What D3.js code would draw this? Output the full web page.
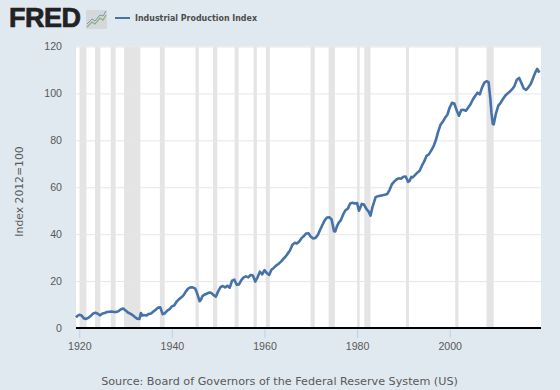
<!DOCTYPE html>
<html>
<head>
<meta charset="utf-8">
<script src="https://cdn.jsdelivr.net/npm/d3@7"></script>
<style>
  html, body { margin: 0; padding: 0; background: #e1e9f0; }
  svg { display: block; font-family: "DejaVu Sans", sans-serif; }
</style>
</head>
<body>
<svg></svg>
<script>
const width = 560;
const height = 390;

const years = [
  1919.3, 1919.6, 1920, 1920.5, 1921, 1921.5, 1922, 1922.5, 1923, 1923.5, 1924, 1924.5,
  1925, 1925.5, 1926, 1926.5, 1927, 1927.5, 1928, 1928.5, 1929, 1929.5, 1930, 1930.5,
  1931, 1931.5, 1932, 1932.5, 1933, 1933.3, 1933.6, 1934, 1934.5, 1935, 1935.5, 1936,
  1936.5, 1937, 1937.5, 1938, 1938.5, 1939, 1939.5, 1940, 1940.5, 1941, 1941.5, 1942,
  1942.5, 1943, 1943.5, 1944, 1944.5, 1945, 1945.3, 1945.7, 1946, 1946.3, 1946.6, 1947,
  1947.5, 1948, 1948.5, 1949, 1949.5, 1950, 1950.5, 1951, 1951.5, 1952, 1952.5, 1953,
  1953.5, 1954, 1954.5, 1955, 1955.5, 1956, 1956.5, 1957, 1957.5, 1958, 1958.5, 1959,
  1959.5, 1960, 1960.5, 1961, 1961.5, 1962, 1962.5, 1963, 1963.5, 1964, 1964.5, 1965,
  1965.5, 1966, 1966.5, 1967, 1967.5, 1968, 1968.5, 1969, 1969.5, 1970, 1970.5, 1971,
  1971.5, 1972, 1972.5, 1973, 1973.5, 1974, 1974.5, 1975, 1975.3, 1975.6, 1976, 1976.5,
  1977, 1977.5, 1978, 1978.5, 1979, 1979.5, 1980, 1980.4, 1980.7, 1981, 1981.5, 1982,
  1982.5, 1982.9, 1983.3, 1983.7, 1984, 1984.5, 1985, 1985.5, 1986, 1986.5, 1987, 1987.5,
  1988, 1988.5, 1989, 1989.5, 1990, 1990.5, 1991, 1991.3, 1991.7, 1992, 1992.5, 1993,
  1993.5, 1994, 1994.5, 1995, 1995.5, 1996, 1996.5, 1997, 1997.5, 1998, 1998.5, 1999,
  1999.5, 2000, 2000.5, 2001, 2001.5, 2002, 2002.5, 2003, 2003.5, 2004, 2004.5, 2005,
  2005.5, 2006, 2006.5, 2007, 2007.5, 2008, 2008.4, 2008.8, 2009, 2009.3, 2009.5, 2010,
  2010.5, 2011, 2011.5, 2012, 2012.5, 2013, 2013.5, 2014, 2014.5, 2015, 2015.5, 2016,
  2016.5, 2017, 2017.5, 2018, 2018.5, 2018.9, 2019.2, 2019.5
];
const values = [
  4.5, 5.2, 5.6, 5.3, 4.1, 3.9, 4.4, 5.2, 6.2, 6.5, 6.1, 5.4,
  6.2, 6.4, 6.8, 6.9, 7.0, 6.8, 6.8, 7.2, 8.0, 8.3, 7.5, 6.6,
  6.1, 5.5, 4.7, 4.0, 3.9, 6.4, 5.3, 5.5, 5.3, 6.0, 6.2, 7.0,
  7.8, 8.7, 8.8, 5.9, 6.3, 7.4, 8.0, 9.2, 9.6, 11.2, 12.2, 13.0,
  13.9, 15.5, 16.8, 17.3, 17.3, 16.9, 15.6, 13.3, 11.4, 12.2, 13.6, 14.2,
  14.6, 15.1, 15.0, 14.0, 13.4, 15.6, 17.4, 17.9, 17.3, 18.0, 17.2, 20.2,
  20.6, 18.4, 18.6, 20.4, 21.6, 22.0, 21.6, 22.6, 22.4, 19.8, 21.6, 24.0,
  22.9, 24.7, 23.4, 22.6, 24.8, 25.6, 26.6, 27.3, 28.2, 29.3, 30.3, 31.7,
  33.0, 35.4, 36.3, 36.0, 36.9, 38.3, 39.2, 40.3, 40.4, 38.9, 38.2, 38.4,
  39.6, 41.8, 43.9, 45.9, 47.1, 47.2, 46.3, 41.3, 41.2, 43.1, 44.8, 46.0,
  48.4, 50.2, 50.9, 53.1, 53.4, 53.1, 53.3, 50.0, 51.4, 52.9, 52.6, 50.8,
  49.6, 47.9, 51.4, 53.9, 55.8, 56.2, 56.4, 56.6, 56.8, 57.1, 58.8, 61.2,
  62.4, 63.3, 63.8, 63.6, 64.5, 64.6, 62.3, 62.6, 64.4, 64.2, 65.2, 66.2,
  67.0, 69.2, 71.0, 73.4, 74.0, 75.6, 77.4, 80.0, 83.6, 86.6, 87.9, 89.6,
  90.9, 94.0, 96.0, 95.7, 92.8, 90.5, 92.9, 93.0, 92.6, 94.0, 95.4, 97.4,
  98.9, 100.3, 99.6, 102.6, 104.6, 105.2, 104.8, 97.2, 92.0, 87.0, 86.8, 91.5,
  94.8, 96.0, 97.6, 99.0, 100.0, 100.8, 101.8, 103.2, 105.8, 106.6, 104.4, 102.1,
  101.5, 102.6, 104.0, 106.5, 109.0, 110.5, 109.3, 109.6
];

// NBER recessions
const recStart = [1920.05, 1923.4, 1926.8, 1929.65, 1937.4, 1945.1, 1948.9, 1953.55, 1957.65, 1960.3, 1969.95, 1973.85, 1980.0, 1981.55, 1990.55, 2001.2, 2007.95];
const recEnd = [1921.55, 1924.55, 1927.85, 1933.2, 1938.45, 1945.8, 1949.8, 1954.4, 1958.35, 1961.15, 1970.85, 1975.2, 1980.55, 1982.9, 1991.2, 2001.9, 2009.5];

const yTicks = [0, 20, 40, 60, 80, 100, 120];
const xTicks = [1920, 1940, 1960, 1980, 2000];
const seriesName = "Industrial Production Index";
const yLabel = "Index 2012=100";
const source = "Source: Board of Governors of the Federal Reserve System (US)";

const plot = { left: 76, right: 541, top: 46.5, bottom: 328 };

const svg = d3.select("svg")
  .attr("width", width)
  .attr("height", height);

const x = d3.scaleLinear()
  .domain([1919.29, 2019.72])
  .range([plot.left, plot.right]);

const y = d3.scaleLinear()
  .domain([0, 120])
  .range([plot.bottom, plot.top]);

svg.append("rect")
  .attr("x", plot.left)
  .attr("y", plot.top)
  .attr("width", plot.right - plot.left)
  .attr("height", plot.bottom - plot.top)
  .attr("fill", "#fff");

// recession bars
svg.append("g")
  .selectAll("rect")
  .data(recStart.map((d, i) => [d, recEnd[i]]))
  .join("rect")
  .attr("x", d => x(d[0]))
  .attr("y", plot.top)
  .attr("width", d => x(d[1]) - x(d[0]))
  .attr("height", plot.bottom - plot.top)
  .attr("fill", "#e4e4e4");

// gridlines and y labels
const yAxis = svg.append("g")
  .attr("transform", `translate(${plot.left},0)`)
  .call(d3.axisLeft(y).tickValues(yTicks).tickSize(-(plot.right - plot.left)).tickPadding(14));
yAxis.select(".domain").remove();
yAxis.selectAll("line").attr("stroke", "#e6e6e6");
yAxis.selectAll("text")
  .attr("fill", "#595959")
  .style("font-size", "10.6px");

const xAxis = svg.append("g")
  .attr("transform", `translate(0,${plot.bottom})`)
  .call(d3.axisBottom(x).tickValues(xTicks).tickFormat(d3.format("d")).tickSize(10).tickPadding(4));
xAxis.select(".domain").remove();
xAxis.selectAll("line").attr("stroke", "#c0d0e0");
xAxis.selectAll("text")
  .attr("fill", "#595959")
  .style("font-size", "10.6px");

svg.append("line")
  .attr("x1", plot.left)
  .attr("x2", plot.right)
  .attr("y1", plot.bottom)
  .attr("y2", plot.bottom)
  .attr("stroke", "#000")
  .attr("stroke-width", 2);

const line = d3.line()
  .x((d, i) => x(years[i]))
  .y(d => y(d));

svg.append("path")
  .datum(values)
  .attr("d", line)
  .attr("fill", "none")
  .attr("stroke", "#4572a7")
  .attr("stroke-width", 2.6)
  .attr("stroke-linejoin", "round");

svg.append("text")
  .attr("transform", "translate(23,191.5) rotate(-90)")
  .attr("text-anchor", "middle")
  .attr("fill", "#595959")
  .style("font-size", "10.8px")
  .text(yLabel);

svg.append("text")
  .attr("x", 279.5)
  .attr("y", 385)
  .attr("text-anchor", "middle")
  .attr("fill", "#595959")
  .style("font-size", "11.2px")
  .text(source);

// logo
svg.append("text")
  .attr("x", 9)
  .attr("y", 27)
  .attr("fill", "#222")
  .style("font-family", "'Liberation Sans', sans-serif")
  .style("font-weight", "bold")
  .style("font-size", "27px")
  .style("stroke", "#222")
  .style("stroke-width", "0.7px")
  .attr("textLength", 72)
  .text("FRED");

const icon = svg.append("g").attr("transform", "translate(86,10)");
icon.append("rect")
  .attr("width", 21)
  .attr("height", 19)
  .attr("rx", 1)
  .attr("fill", "#d4d8da");
const iconLine = d3.line();
const iconGreen = [[1, 17], [6, 12], [9, 14], [14, 8], [17, 10], [20, 5]];
const iconBlue = [[1, 14], [6, 9], [9, 11], [14, 5], [17, 6], [20, 1]];
icon.append("path").attr("d", iconLine(iconGreen)).attr("fill", "none").attr("stroke", "#8fb273").attr("stroke-width", 1.3);
icon.append("path").attr("d", iconLine(iconBlue)).attr("fill", "none").attr("stroke", "#7198c0").attr("stroke-width", 1);

// legend
svg.append("line")
  .attr("x1", 115)
  .attr("x2", 130)
  .attr("y1", 18)
  .attr("y2", 18)
  .attr("stroke", "#4572a7")
  .attr("stroke-width", 2);

svg.append("text")
  .attr("x", 135)
  .attr("y", 20.5)
  .attr("fill", "#4d4d4d")
  .style("font-size", "9.2px")
  .style("font-weight", "bold")
  .attr("textLength", 122)
  .attr("lengthAdjust", "spacingAndGlyphs")
  .text(seriesName);
</script>
</body>
</html>
